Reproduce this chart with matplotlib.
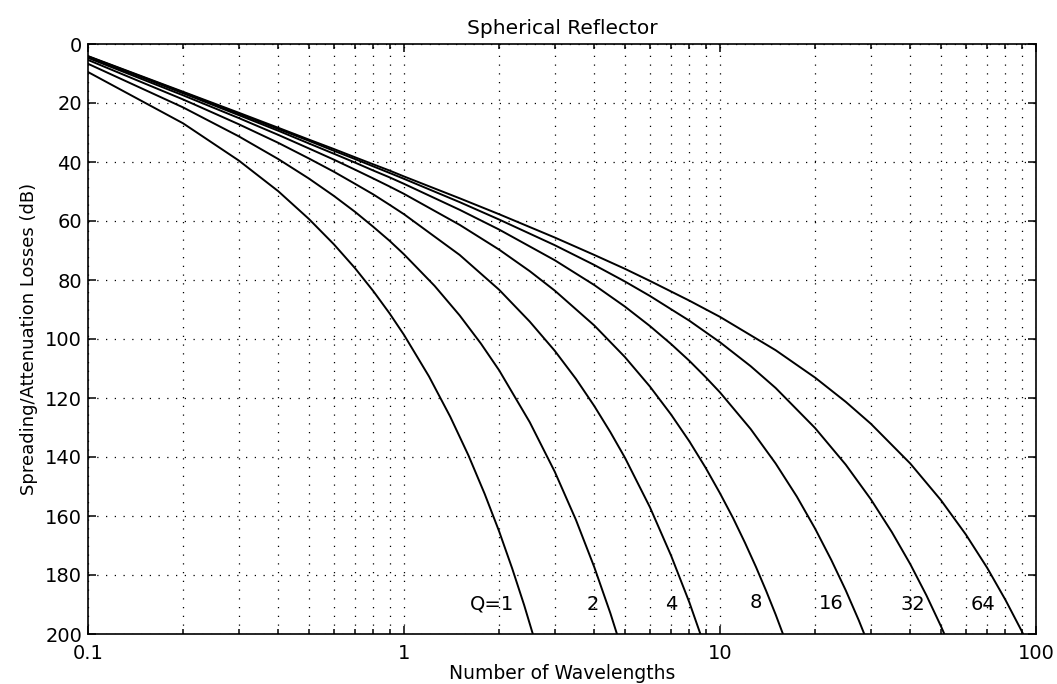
import matplotlib
matplotlib.use("Agg")
import matplotlib.pyplot as plt
from matplotlib.ticker import FixedLocator, NullFormatter, FixedFormatter

plt.rcParams['font.family'] = ['DejaVu Sans']

# Number of wavelengths and two-way spreading/attenuation loss (dB) for each Q
x_q1 = [0.1, 0.2, 0.3, 0.4, 0.5, 0.6, 0.7, 0.8, 0.9, 1.0, 1.2, 1.4, 1.6, 1.8, 2.0, 2.2, 2.4, 2.6]
y_q1 = [9.5, 26.9, 39.5, 49.9, 59.3, 67.9, 76.0, 83.8, 91.3, 98.6, 112.7, 126.3, 139.5, 152.5, 165.2, 177.8, 190.2, 202.6]

x_q2 = [0.1, 0.2, 0.3, 0.4, 0.5, 0.6, 0.7, 0.8, 0.9, 1.0, 1.25, 1.5, 1.75, 2.0, 2.5, 3.0, 3.5, 4.0, 4.5, 5.0]
y_q2 = [6.7, 21.5, 31.3, 39.0, 45.6, 51.5, 56.9, 62.0, 66.7, 71.3, 82.0, 92.0, 101.5, 110.6, 128.2, 145.0, 161.3, 177.3, 193.0, 208.5]

x_q4 = [0.1, 0.2, 0.3, 0.4, 0.5, 0.6, 0.7, 0.8, 0.9, 1.0, 1.5, 2.0, 2.5, 3.0, 3.5, 4.0, 4.5, 5.0, 6.0, 7.0, 8.0, 9.0]
y_q4 = [5.4, 18.8, 27.2, 33.5, 38.8, 43.3, 47.4, 51.0, 54.5, 57.7, 71.5, 83.3, 94.1, 104.0, 113.5, 122.7, 131.6, 140.2, 157.0, 173.4, 189.3, 205.0]

x_q8 = [0.1, 0.2, 0.3, 0.4, 0.5, 0.6, 0.7, 0.8, 0.9, 1.0, 1.5, 2.0, 2.5, 3.0, 4.0, 5.0, 6.0, 7.0, 8.0, 9.0, 10.0, 11.0, 12.0, 13.0, 14.0, 15.0, 16.0]
y_q8 = [4.7, 17.4, 25.1, 30.8, 35.4, 39.2, 42.6, 45.6, 48.3, 50.8, 61.3, 69.7, 77.0, 83.6, 95.4, 106.1, 116.1, 125.6, 134.7, 143.6, 152.3, 160.7, 169.1, 177.3, 185.4, 193.4, 201.4]

x_q16 = [0.1, 0.2, 0.3, 0.4, 0.5, 0.6, 0.7, 0.8, 0.9, 1.0, 1.5, 2.0, 3.0, 4.0, 5.0, 6.0, 7.0, 8.0, 9.0, 10.0, 12.5, 15.0, 17.5, 20.0, 22.5, 25.0, 27.5, 30.0]
y_q16 = [4.3, 16.7, 24.1, 29.4, 33.7, 37.2, 40.2, 42.9, 45.2, 47.4, 56.2, 62.9, 73.3, 81.7, 89.0, 95.6, 101.7, 107.4, 112.9, 118.1, 130.5, 142.2, 153.4, 164.3, 174.9, 185.2, 195.4, 205.5]

x_q32 = [0.1, 0.2, 0.3, 0.4, 0.5, 0.6, 0.7, 0.8, 0.9, 1.0, 1.5, 2.0, 3.0, 4.0, 5.0, 6.0, 8.0, 10.0, 12.5, 15.0, 20.0, 25.0, 30.0, 35.0, 40.0, 45.0, 50.0, 55.0]
y_q32 = [4.2, 16.4, 23.6, 28.8, 32.8, 36.2, 39.0, 41.5, 43.7, 45.7, 53.6, 59.5, 68.2, 74.9, 80.5, 85.4, 93.8, 101.1, 109.2, 116.6, 130.2, 142.6, 154.3, 165.5, 176.3, 186.9, 197.3, 207.5]

x_q64 = [0.1, 0.2, 0.3, 0.4, 0.5, 0.6, 0.7, 0.8, 0.9, 1.0, 1.5, 2.0, 3.0, 4.0, 5.0, 6.0, 8.0, 10.0, 15.0, 20.0, 25.0, 30.0, 40.0, 50.0, 60.0, 70.0, 80.0, 90.0, 95.0]
y_q64 = [4.1, 16.2, 23.3, 28.4, 32.4, 35.6, 38.4, 40.8, 42.9, 44.9, 52.3, 57.7, 65.6, 71.5, 76.2, 80.3, 87.0, 92.5, 103.8, 113.1, 121.3, 128.7, 142.2, 154.6, 166.3, 177.5, 188.4, 198.9, 204.2]

# Curve labels and where they sit
q_labels = ["Q=1", "2", "4", "8", "16", "32", "64"]
label_x = [1.90, 3.97, 7.03, 13.0, 22.5, 40.8, 67.9]
label_y = [190, 190, 190, 189.3, 189.6, 190, 190]

x_ticks = [0.1, 1, 10, 100]
x_tick_labels = ["0.1", "1", "10", "100"]
y_ticks = [0, 20, 40, 60, 80, 100, 120, 140, 160, 180, 200]

W, H = 1057, 684
fig = plt.figure(figsize=(W / 100, H / 100), dpi=100)
ax = fig.add_axes([88 / W, 1 - 634 / H, (1036 - 88) / W, (634 - 44) / H])

curves = [(x_q1, y_q1), (x_q2, y_q2), (x_q4, y_q4), (x_q8, y_q8),
          (x_q16, y_q16), (x_q32, y_q32), (x_q64, y_q64)]
for xs, ys in curves:
    ax.plot(xs, ys, color='black', lw=1.4)

ax.set_xscale('log')
ax.set_xlim(0.1, 100)
ax.set_ylim(200, 0)

ax.xaxis.set_major_locator(FixedLocator(x_ticks))
ax.xaxis.set_major_formatter(FixedFormatter(x_tick_labels))
minor = [m * d for d in (0.1, 1, 10) for m in range(2, 10)]
ax.xaxis.set_minor_locator(FixedLocator(minor))
ax.xaxis.set_minor_formatter(NullFormatter())
ax.set_yticks(y_ticks)
ax.set_yticklabels([str(v) for v in y_ticks])

grid_style = dict(linestyle=(0, (1, 6)), color='black', lw=0.9)
ax.grid(True, which='both', axis='x', **grid_style)
ax.grid(True, which='major', axis='y', **grid_style)

ax.tick_params(which='both', direction='in', top=True, right=True, labelsize=14, width=1.1)
ax.tick_params(which='major', length=6)
ax.tick_params(which='minor', length=3.6)
ax.tick_params(axis='x', pad=7.0)
ax.tick_params(axis='y', pad=4.3)
for sp in ax.spines.values():
    sp.set_linewidth(1.2)

for t, lx, ly in zip(q_labels, label_x, label_y):
    ax.text(lx, ly, t, ha='center', va='center', fontsize=14)

ax.set_title("Spherical Reflector", fontsize=14.5, pad=7.4)
ax.set_xlabel("Number of Wavelengths", fontsize=13.5, va='bottom')
ax.set_ylabel("Spreading/Attenuation Losses (dB)", fontsize=13)
ax.xaxis.set_label_coords(0.5, (634 - 683) / 590)
ax.yaxis.set_label_coords((38 - 88) / 948, 0.5)

fig.savefig("out.png", dpi=100)
